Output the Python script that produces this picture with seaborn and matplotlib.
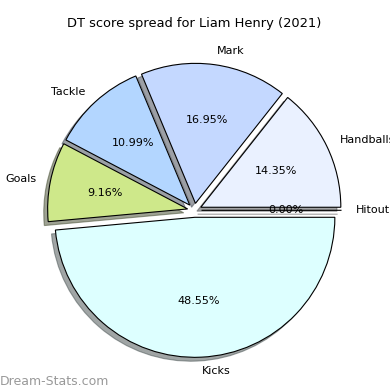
import matplotlib
matplotlib.use('Agg')
import matplotlib.pyplot as plt
import seaborn as sns

# Chart data
labels = ['Hitout', 'Handballs', 'Mark', 'Tackle', 'Goals', 'Kicks']
shares = [0.00, 14.35, 16.95, 10.99, 9.16, 48.55]
colors = ['#e8e8e8', '#eaf1ff', '#c4d8ff', '#b3d6ff', '#cee88a', '#ddffff']
explode = [0.05] * len(labels)

sns.set_style('white')
plt.rcParams['font.family'] = ['DejaVu Sans']
plt.rcParams['text.color'] = 'black'

fig = plt.figure(figsize=(3.9, 3.9), dpi=100)
ax = fig.add_axes([0.05, 0.012, 0.8975, 0.8975])

ax.pie(shares, labels=labels, colors=colors, explode=explode,
       autopct='%1.2f%%', shadow=True, startangle=0,
       wedgeprops={'edgecolor': 'black', 'linewidth': 0.8},
       textprops={'fontsize': 8, 'color': 'black'})
ax.set_aspect('equal')
ax.set_title('DT score spread for Liam Henry (2021)', fontsize=9.4, color='black')

# Watermark
fig.text(0.0, 0.012, 'Dream-Stats.com', fontsize=9, color='#999999')

fig.savefig('out.png', dpi=100)
